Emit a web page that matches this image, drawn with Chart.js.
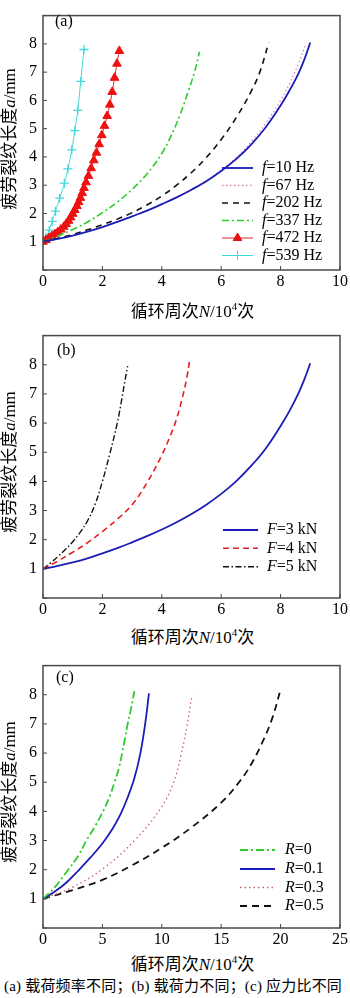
<!DOCTYPE html>
<html><head><meta charset="utf-8">
<script src="https://cdn.jsdelivr.net/npm/chart.js@4/dist/chart.umd.min.js"></script>
<style>
html,body{margin:0;padding:0;background:#fff;}
body{width:350px;height:998px;position:relative;overflow:hidden;font-family:"Liberation Serif","Times New Roman","Noto Sans CJK SC",serif;color:#000;}
canvas{position:absolute;left:0;}
.xt{position:absolute;left:43px;width:299px;text-align:center;font-size:17px;line-height:20px;white-space:nowrap;}
.yt{position:absolute;left:-90px;width:200px;height:20px;text-align:center;font-size:17px;line-height:20px;transform:rotate(-90deg);white-space:nowrap;}
.xt sup{font-size:11px;vertical-align:0;position:relative;top:-7px;}
.cap{position:absolute;left:4px;top:978px;font-size:15px;line-height:17px;white-space:nowrap;letter-spacing:0.2px;}
</style>
</head><body>
<canvas id="ca" width="350" height="290" style="top:0px"></canvas>
<canvas id="cb" width="350" height="298" style="top:320px"></canvas>
<canvas id="cc" width="350" height="298" style="top:650px"></canvas>
<div class="yt" style="top:129px">疲劳裂纹长度<i>a</i>/mm</div>
<div class="yt" style="top:452px">疲劳裂纹长度<i>a</i>/mm</div>
<div class="yt" style="top:782px">疲劳裂纹长度<i>a</i>/mm</div>
<div class="xt" style="top:302px">循环周次<i>N</i>/10<sup>4</sup>次</div>
<div class="xt" style="top:628px">循环周次<i>N</i>/10<sup>4</sup>次</div>
<div class="xt" style="top:955px">循环周次<i>N</i>/10<sup>4</sup>次</div>
<div class="cap">(a) 载荷频率不同；(b) 载荷力不同；(c) 应力比不同</div>
<script>
// ---------- Panel (a): different loading frequency ----------
const freqLabels = ['=10 Hz', '=67 Hz', '=202 Hz', '=337 Hz', '=472 Hz', '=539 Hz'];
const a10N  = [0,0.5,1,1.5,2,2.5,3,3.5,4,4.5,5,5.5,6,6.5,7,7.5,8,8.3,8.6,8.8,9.0];
const a10A  = [1,1.1,1.22,1.36,1.52,1.7,1.9,2.1,2.33,2.57,2.84,3.14,3.5,3.92,4.43,5.05,5.82,6.35,6.95,7.45,8.05];
const a67N  = [0,0.5,1,1.5,2,2.5,3,3.5,4,4.5,5,5.5,6,6.5,7,7.5,8,8.3,8.6,8.85];
const a67A  = [1,1.1,1.22,1.36,1.52,1.7,1.9,2.1,2.33,2.57,2.85,3.16,3.53,3.97,4.52,5.2,6.0,6.6,7.3,8.0];
const a202N = [0,0.5,1,1.5,2,2.5,3,3.5,4,4.5,5,5.5,6,6.5,7,7.3,7.6];
const a202A = [1,1.12,1.26,1.42,1.6,1.8,2.03,2.3,2.62,3.0,3.45,3.98,4.62,5.38,6.3,7.0,8.05];
const a337N = [0,0.5,1,1.5,2,2.5,3,3.5,4,4.3,4.6,4.9,5.1,5.27];
const a337A = [1,1.2,1.43,1.7,2.03,2.4,2.85,3.4,4.12,4.72,5.45,6.35,7.0,7.72];
const a472N = [0,0.1,0.2,0.3,0.4,0.5,0.6,0.7,0.78,0.86,0.93,1.0,1.07,1.14,1.2,1.26,1.32,1.38,1.45,1.53,1.62,1.71,1.8,1.89,1.98,2.07,2.16,2.25,2.33,2.41,2.49,2.57];
const a472A = [1,1.06,1.13,1.2,1.27,1.34,1.43,1.53,1.63,1.74,1.86,1.99,2.12,2.26,2.4,2.55,2.72,2.9,3.1,3.33,3.6,3.88,4.15,4.45,4.77,5.1,5.45,5.85,6.3,6.8,7.3,7.75];
const a539N = [0,0.1,0.21,0.31,0.42,0.56,0.72,0.84,0.97,1.07,1.17,1.27,1.38];
const a539A = [1,1.16,1.41,1.72,2.08,2.54,3.07,3.58,4.25,4.93,5.65,6.67,7.8];

// ---------- Panel (b): different load ----------
const loadLabels = ['=3 kN', '=4 kN', '=5 kN'];
const b3N = [0,0.5,1,1.5,2,2.5,3,3.5,4,4.5,5,5.5,6,6.5,7,7.5,8,8.3,8.6,8.8,9.0];
const b3A = [1,1.1,1.22,1.36,1.53,1.71,1.91,2.12,2.35,2.6,2.88,3.2,3.57,4.0,4.52,5.13,5.9,6.42,7.02,7.5,8.05];
const b4N = [0,0.5,1,1.5,2,2.5,3,3.5,4,4.3,4.5,4.7,4.85,4.93];
const b4A = [1,1.27,1.57,1.9,2.28,2.7,3.2,3.95,4.9,5.6,6.15,6.9,7.6,8.1];
const b5N = [0,0.25,0.5,0.75,1,1.25,1.5,1.75,2,2.25,2.5,2.65,2.75,2.85];
const b5A = [1,1.2,1.42,1.66,1.93,2.25,2.65,3.2,4.0,4.95,6.0,6.8,7.4,7.95];

// ---------- Panel (c): different stress ratio ----------
const ratioLabels = ['=0', '=0.1', '=0.3', '=0.5'];
const c0N  = [0,1,2.12,3,3.65,4.4,5.05,5.6,6.02,6.4,6.66,6.9,7.13,7.4,7.69];
const c0A  = [1,1.4,2.0,2.5,3.0,3.5,4.0,4.5,5.0,5.5,6.0,6.5,7.0,7.5,8.12];
const c01N = [0,1,2,3,4,5,5.8,6.5,7.1,7.7,8.2,8.6,8.92];
const c01A = [1,1.25,1.57,1.98,2.42,2.9,3.37,3.88,4.45,5.15,6.0,7.0,8.05];
const c03N = [0,2.5,5.1,7.7,9.9,11.0,11.6,12.1,12.55];
const c03A = [1,1.4,2.05,3.0,4.1,5.0,5.9,6.9,8.0];
const c05N = [0,2.5,5,7.5,10,12.5,15,16.5,17.5,18.5,19.3,20];
const c05A = [1,1.3,1.65,2.15,2.75,3.45,4.3,5.0,5.6,6.4,7.2,8.18];

const yTicksShown = [1,2,3,4,5,6,7,8];

function pts(xs, ys){ return xs.map((x,i)=>({x:x, y:ys[i]})); }
function ds(sym, label, xs, ys, color, width, dash, extra){
  return Object.assign({
    sym: sym, label: label, data: pts(xs, ys),
    borderColor: color, borderWidth: width, borderDash: dash,
    pointRadius: 0, pointStyle: false, fill: false,
    tension: 0.4
  }, extra || {});
}

const FONT = '"Liberation Serif", "Times New Roman", serif';

const legendPlugin = {
  id: 'customLegend',
  afterDatasetsDraw(chart, args, o){
    if(!o || !o.rows) return;
    const ctx = chart.ctx;
    chart.data.datasets.forEach((d, i) => {
      const y = o.rows[i];
      ctx.save();
      ctx.strokeStyle = d.borderColor; ctx.lineWidth = d.borderWidth;
      ctx.setLineDash(d.borderDash || []);
      ctx.beginPath(); ctx.moveTo(o.x1, y); ctx.lineTo(o.x2, y); ctx.stroke();
      ctx.setLineDash([]);
      if (d.pointRadius > 0) {
        ctx.fillStyle = d.pointBackgroundColor; ctx.strokeStyle = d.pointBorderColor; ctx.lineWidth = 1;
        Chart.helpers.drawPoint(ctx, {pointStyle: d.pointStyle, radius: d.pointRadius, borderWidth: 1, rotation: 0}, (o.x1 + o.x2) / 2, y);
      }
      ctx.fillStyle = '#000'; ctx.textBaseline = 'middle'; ctx.textAlign = 'left';
      ctx.font = 'italic 16px ' + FONT;
      ctx.fillText(d.sym, o.tx, y);
      const w = ctx.measureText(d.sym).width;
      ctx.font = '16px ' + FONT;
      ctx.fillText(d.label, o.tx + w, y);
      ctx.restore();
    });
  }
};

const framePlugin = {
  id: 'frame',
  afterDatasetsDraw(chart, args, o){
    const ctx = chart.ctx, a = chart.chartArea;
    ctx.save();
    ctx.strokeStyle = '#4a4a4a'; ctx.lineWidth = 1.5;
    ctx.strokeRect(a.left, a.top, a.right - a.left, a.bottom - a.top);
    ctx.lineWidth = 1; ctx.strokeStyle = '#444';
    const xs = chart.scales.x, ys = chart.scales.y;
    xs.ticks.forEach(t => { const px = xs.getPixelForValue(t.value);
      ctx.beginPath(); ctx.moveTo(px, a.bottom); ctx.lineTo(px, a.bottom - 4); ctx.stroke(); });
    ys.ticks.forEach(t => { const py = ys.getPixelForValue(t.value);
      ctx.beginPath(); ctx.moveTo(a.left, py); ctx.lineTo(a.left + 4, py); ctx.stroke(); });
    ctx.fillStyle = '#000'; ctx.font = '16px ' + FONT;
    ctx.textBaseline = 'middle'; ctx.textAlign = 'left';
    ctx.fillText(o.text, o.x, o.y);
    ctx.restore();
  }
};

function makeChart(id, padTop, xMax, xStep, datasets, legend, frame){
  return new Chart(document.getElementById(id), {
    type: 'line',
    data: { datasets: datasets },
    options: {
      responsive: false, devicePixelRatio: 1, animation: false,
      layout: { padding: { top: padTop, right: 8, left: 0, bottom: 0 } },
      plugins: { legend: { display: false }, tooltip: { enabled: false },
                 customLegend: legend, frame: frame },
      scales: {
        x: { type: 'linear', min: 0, max: xMax,
             ticks: { stepSize: xStep, color: '#000', padding: 2, maxRotation: 0, font: { family: FONT, size: 16 } },
             grid: { display: false, drawTicks: false }, border: { display: false },
             afterFit: s => { s.height = 20; } },
        y: { type: 'linear', min: 0, max: 9,
             ticks: { stepSize: 1, color: '#000', padding: 6, font: { family: FONT, size: 16 },
                      callback: v => yTicksShown.includes(v) ? String(v) : '' },
             grid: { display: false, drawTicks: false }, border: { display: false },
             afterFit: s => { s.width = 43; } }
      }
    },
    plugins: [legendPlugin, framePlugin]
  });
}

const BLUE = '#1c1cb8';

makeChart('ca', 1, 10, 2, [
  ds('f', freqLabels[0], a10N, a10A, BLUE, 1.8, []),
  ds('f', freqLabels[1], a67N, a67A, '#d88cb4', 1.3, [1.5, 2.5]),
  ds('f', freqLabels[2], a202N, a202A, '#111', 1.6, [6, 5]),
  ds('f', freqLabels[3], a337N, a337A, '#2ccc2c', 1.6, [7, 3, 2, 3]),
  ds('f', freqLabels[4], a472N, a472A, '#d42a2a', 1, [],
     { pointRadius: 5, pointStyle: 'triangle', pointBackgroundColor: '#ee1111', pointBorderColor: '#ee1111', pointBorderWidth: 1 }),
  ds('f', freqLabels[5], a539N, a539A, '#44d8dc', 1, [],
     { pointRadius: 4.5, pointStyle: 'cross', pointBackgroundColor: '#44d8dc', pointBorderColor: '#44d8dc', pointBorderWidth: 1.3 })
], { x1: 222, x2: 253, tx: 262, rows: [168, 185.5, 203, 220.5, 238, 255.5] },
   { text: '(a)', x: 55, y: 22 });

makeChart('cb', 7, 10, 2, [
  ds('F', loadLabels[0], b3N, b3A, BLUE, 1.8, []),
  ds('F', loadLabels[1], b4N, b4A, '#e02020', 1.6, [6, 4]),
  ds('F', loadLabels[2], b5N, b5A, '#111', 1.4, [6, 2.5, 1.5, 2.5])
], { x1: 223, x2: 258, tx: 267, rows: [210, 228.3, 246.7] },
   { text: '(b)', x: 57, y: 31 });

makeChart('cc', 7, 25, 5, [
  ds('R', ratioLabels[0], c0N, c0A, '#2ccc2c', 1.8, [8, 3, 2, 3]),
  ds('R', ratioLabels[1], c01N, c01A, BLUE, 1.8, []),
  ds('R', ratioLabels[2], c03N, c03A, '#c86464', 1.3, [1.5, 3]),
  ds('R', ratioLabels[3], c05N, c05A, '#111', 1.8, [7, 5])
], { x1: 240, x2: 275, tx: 285, rows: [200, 219, 237.5, 256] },
   { text: '(c)', x: 56, y: 28 });
</script>
</body></html>
